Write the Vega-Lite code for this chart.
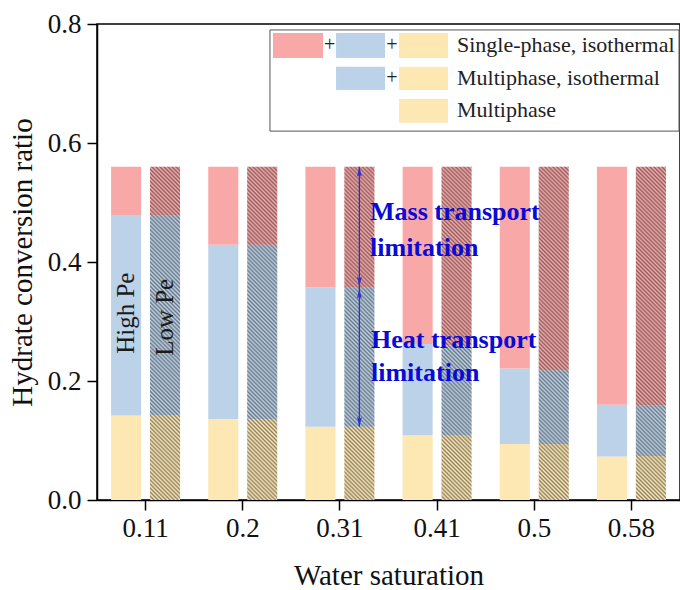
{
  "$schema": "https://vega.github.io/schema/vega-lite/v6.json",
  "autosize": "none",
  "width": 583,
  "height": 476,
  "padding": {"left": 97, "top": 24, "right": 0, "bottom": 90},
  "background": "white",
  "config": {
    "font": "Liberation Serif",
    "view": {"stroke": "#000", "strokeWidth": 1.5},
    "axis": {
      "labelFont": "Liberation Serif", "titleFont": "Liberation Serif",
      "labelFontSize": 27, "titleFontSize": 29, "titleFontWeight": "normal",
      "labelColor": "#111", "titleColor": "#111",
      "domainColor": "#000", "tickColor": "#000", "domainWidth": 1.5, "tickWidth": 1.5,
      "tickSize": 10, "grid": false
    }
  },
  "datasets": {
    "bars": [
      {"ws": "0.11", "pe": "High Pe", "comp": "Multiphase", "lo": 0, "hi": 0.142},
      {"ws": "0.11", "pe": "High Pe", "comp": "Multiphase, isothermal", "lo": 0.142, "hi": 0.479},
      {"ws": "0.11", "pe": "High Pe", "comp": "Single-phase, isothermal", "lo": 0.479, "hi": 0.56},
      {"ws": "0.11", "pe": "Low Pe", "comp": "Multiphase", "lo": 0, "hi": 0.143},
      {"ws": "0.11", "pe": "Low Pe", "comp": "Multiphase, isothermal", "lo": 0.143, "hi": 0.478},
      {"ws": "0.11", "pe": "Low Pe", "comp": "Single-phase, isothermal", "lo": 0.478, "hi": 0.56},
      {"ws": "0.2", "pe": "High Pe", "comp": "Multiphase", "lo": 0, "hi": 0.136},
      {"ws": "0.2", "pe": "High Pe", "comp": "Multiphase, isothermal", "lo": 0.136, "hi": 0.429},
      {"ws": "0.2", "pe": "High Pe", "comp": "Single-phase, isothermal", "lo": 0.429, "hi": 0.56},
      {"ws": "0.2", "pe": "Low Pe", "comp": "Multiphase", "lo": 0, "hi": 0.136},
      {"ws": "0.2", "pe": "Low Pe", "comp": "Multiphase, isothermal", "lo": 0.136, "hi": 0.429},
      {"ws": "0.2", "pe": "Low Pe", "comp": "Single-phase, isothermal", "lo": 0.429, "hi": 0.56},
      {"ws": "0.31", "pe": "High Pe", "comp": "Multiphase", "lo": 0, "hi": 0.123},
      {"ws": "0.31", "pe": "High Pe", "comp": "Multiphase, isothermal", "lo": 0.123, "hi": 0.357},
      {"ws": "0.31", "pe": "High Pe", "comp": "Single-phase, isothermal", "lo": 0.357, "hi": 0.56},
      {"ws": "0.31", "pe": "Low Pe", "comp": "Multiphase", "lo": 0, "hi": 0.123},
      {"ws": "0.31", "pe": "Low Pe", "comp": "Multiphase, isothermal", "lo": 0.123, "hi": 0.357},
      {"ws": "0.31", "pe": "Low Pe", "comp": "Single-phase, isothermal", "lo": 0.357, "hi": 0.56},
      {"ws": "0.41", "pe": "High Pe", "comp": "Multiphase", "lo": 0, "hi": 0.109},
      {"ws": "0.41", "pe": "High Pe", "comp": "Multiphase, isothermal", "lo": 0.109, "hi": 0.262},
      {"ws": "0.41", "pe": "High Pe", "comp": "Single-phase, isothermal", "lo": 0.262, "hi": 0.56},
      {"ws": "0.41", "pe": "Low Pe", "comp": "Multiphase", "lo": 0, "hi": 0.109},
      {"ws": "0.41", "pe": "Low Pe", "comp": "Multiphase, isothermal", "lo": 0.109, "hi": 0.26},
      {"ws": "0.41", "pe": "Low Pe", "comp": "Single-phase, isothermal", "lo": 0.26, "hi": 0.56},
      {"ws": "0.5", "pe": "High Pe", "comp": "Multiphase", "lo": 0, "hi": 0.094},
      {"ws": "0.5", "pe": "High Pe", "comp": "Multiphase, isothermal", "lo": 0.094, "hi": 0.221},
      {"ws": "0.5", "pe": "High Pe", "comp": "Single-phase, isothermal", "lo": 0.221, "hi": 0.56},
      {"ws": "0.5", "pe": "Low Pe", "comp": "Multiphase", "lo": 0, "hi": 0.094},
      {"ws": "0.5", "pe": "Low Pe", "comp": "Multiphase, isothermal", "lo": 0.094, "hi": 0.218},
      {"ws": "0.5", "pe": "Low Pe", "comp": "Single-phase, isothermal", "lo": 0.218, "hi": 0.56},
      {"ws": "0.58", "pe": "High Pe", "comp": "Multiphase", "lo": 0, "hi": 0.073},
      {"ws": "0.58", "pe": "High Pe", "comp": "Multiphase, isothermal", "lo": 0.073, "hi": 0.16},
      {"ws": "0.58", "pe": "High Pe", "comp": "Single-phase, isothermal", "lo": 0.16, "hi": 0.56},
      {"ws": "0.58", "pe": "Low Pe", "comp": "Multiphase", "lo": 0, "hi": 0.074},
      {"ws": "0.58", "pe": "Low Pe", "comp": "Multiphase, isothermal", "lo": 0.074, "hi": 0.159},
      {"ws": "0.58", "pe": "Low Pe", "comp": "Single-phase, isothermal", "lo": 0.159, "hi": 0.56}
    ],
    "pelabels": [
      {"ws": "0.11", "pe": "High Pe", "y": 0.314},
      {"ws": "0.11", "pe": "Low Pe", "y": 0.307}
    ],
    "arrow": [
      {"ws": "0.31", "pe": "Low Pe", "y1": 0.123, "y2": 0.56}
    ],
    "heads": [
      {"ws": "0.31", "pe": "Low Pe", "y": 0.56, "dir": "up"},
      {"ws": "0.31", "pe": "Low Pe", "y": 0.359, "dir": "down"},
      {"ws": "0.31", "pe": "Low Pe", "y": 0.355, "dir": "up"},
      {"ws": "0.31", "pe": "Low Pe", "y": 0.123, "dir": "down"}
    ],
    "legendbox": [
      {"x1": 1.78, "x2": 5.99, "y1": 0.62, "y2": 0.79}
    ],
    "swatches": [
      {"comp": "Single-phase, isothermal", "x1": 1.811, "x2": 2.326, "y1": 0.743, "y2": 0.785},
      {"comp": "Multiphase, isothermal", "x1": 2.46, "x2": 2.964, "y1": 0.743, "y2": 0.785},
      {"comp": "Multiphase", "x1": 3.108, "x2": 3.612, "y1": 0.743, "y2": 0.785},
      {"comp": "Multiphase, isothermal", "x1": 2.46, "x2": 2.964, "y1": 0.689, "y2": 0.728},
      {"comp": "Multiphase", "x1": 3.108, "x2": 3.612, "y1": 0.689, "y2": 0.728},
      {"comp": "Multiphase", "x1": 3.108, "x2": 3.612, "y1": 0.634, "y2": 0.674}
    ],
    "plus": [
      {"label": "+", "x": 2.393, "y": 0.764},
      {"label": "+", "x": 3.036, "y": 0.764},
      {"label": "+", "x": 3.036, "y": 0.709}
    ],
    "legendtext": [
      {"label": "Single-phase, isothermal", "x": 3.705, "y": 0.764},
      {"label": "Multiphase, isothermal", "x": 3.705, "y": 0.709},
      {"label": "Multiphase", "x": 3.705, "y": 0.655}
    ],
    "notes": [
      {"label": "Mass transport", "x": 2.81, "y": 0.484},
      {"label": "limitation", "x": 2.81, "y": 0.423},
      {"label": "Heat transport", "x": 2.82, "y": 0.269},
      {"label": "limitation", "x": 2.82, "y": 0.214}
    ]
  },
  "layer": [
    {
      "data": {"name": "bars"},
      "layer": [
        {
          "mark": {"type": "bar"},
          "encoding": {
            "x": {"field": "ws", "type": "nominal", "title": "Water saturation",
              "scale": {"domain": ["0.11", "0.2", "0.31", "0.41", "0.5", "0.58"], "paddingInner": 0.29, "paddingOuter": 0.145},
              "axis": {"labelAngle": 0, "labelPadding": 5, "titlePadding": 20}},
            "xOffset": {"field": "pe", "type": "nominal", "scale": {"domain": ["High Pe", "Low Pe"], "paddingInner": 0.228, "paddingOuter": 0}},
            "y": {"field": "lo", "type": "quantitative", "title": "Hydrate conversion ratio",
              "scale": {"domain": [0, 0.8], "nice": false},
              "axis": {"values": [0, 0.2, 0.4, 0.6, 0.8], "format": ".1f", "labelPadding": 6, "titlePadding": 10}},
            "y2": {"field": "hi"},
            "color": {"field": "comp", "type": "nominal", "legend": null,
              "scale": {"domain": ["Single-phase, isothermal", "Multiphase, isothermal", "Multiphase"], "range": ["#F9A8A8", "#BCD2E8", "#FDE7B3"]}}
          }
        },
        {
          "transform": [
            {"filter": "datum.pe === 'Low Pe'"},
            {"aggregate": [{"op": "min", "field": "lo", "as": "bottom"}, {"op": "max", "field": "hi", "as": "top"}], "groupby": ["ws", "pe"]}
          ],
          "mark": {"type": "bar", "fill": {"gradient": "linear", "x1": 1, "y1": 0, "x2": 0.9024, "y2": 1.0814, "stops": [
            {"offset": 0, "color": "rgba(20,20,20,0.48)"}, {"offset": 0.0056, "color": "rgba(20,20,20,0)"}, {"offset": 0.0111, "color": "rgba(20,20,20,0.48)"}, {"offset": 0.0167, "color": "rgba(20,20,20,0)"}, {"offset": 0.0222, "color": "rgba(20,20,20,0.48)"}, {"offset": 0.0278, "color": "rgba(20,20,20,0)"}, {"offset": 0.0333, "color": "rgba(20,20,20,0.48)"}, {"offset": 0.0389, "color": "rgba(20,20,20,0)"}, {"offset": 0.0444, "color": "rgba(20,20,20,0.48)"}, {"offset": 0.05, "color": "rgba(20,20,20,0)"}, {"offset": 0.0556, "color": "rgba(20,20,20,0.48)"}, {"offset": 0.0611, "color": "rgba(20,20,20,0)"}, {"offset": 0.0667, "color": "rgba(20,20,20,0.48)"}, {"offset": 0.0722, "color": "rgba(20,20,20,0)"}, {"offset": 0.0778, "color": "rgba(20,20,20,0.48)"}, {"offset": 0.0833, "color": "rgba(20,20,20,0)"}, {"offset": 0.0889, "color": "rgba(20,20,20,0.48)"}, {"offset": 0.0944, "color": "rgba(20,20,20,0)"},
            {"offset": 0.1, "color": "rgba(20,20,20,0.48)"}, {"offset": 0.1056, "color": "rgba(20,20,20,0)"}, {"offset": 0.1111, "color": "rgba(20,20,20,0.48)"}, {"offset": 0.1167, "color": "rgba(20,20,20,0)"}, {"offset": 0.1222, "color": "rgba(20,20,20,0.48)"}, {"offset": 0.1278, "color": "rgba(20,20,20,0)"}, {"offset": 0.1333, "color": "rgba(20,20,20,0.48)"}, {"offset": 0.1389, "color": "rgba(20,20,20,0)"}, {"offset": 0.1444, "color": "rgba(20,20,20,0.48)"}, {"offset": 0.15, "color": "rgba(20,20,20,0)"}, {"offset": 0.1556, "color": "rgba(20,20,20,0.48)"}, {"offset": 0.1611, "color": "rgba(20,20,20,0)"}, {"offset": 0.1667, "color": "rgba(20,20,20,0.48)"}, {"offset": 0.1722, "color": "rgba(20,20,20,0)"}, {"offset": 0.1778, "color": "rgba(20,20,20,0.48)"}, {"offset": 0.1833, "color": "rgba(20,20,20,0)"}, {"offset": 0.1889, "color": "rgba(20,20,20,0.48)"}, {"offset": 0.1944, "color": "rgba(20,20,20,0)"},
            {"offset": 0.2, "color": "rgba(20,20,20,0.48)"}, {"offset": 0.2056, "color": "rgba(20,20,20,0)"}, {"offset": 0.2111, "color": "rgba(20,20,20,0.48)"}, {"offset": 0.2167, "color": "rgba(20,20,20,0)"}, {"offset": 0.2222, "color": "rgba(20,20,20,0.48)"}, {"offset": 0.2278, "color": "rgba(20,20,20,0)"}, {"offset": 0.2333, "color": "rgba(20,20,20,0.48)"}, {"offset": 0.2389, "color": "rgba(20,20,20,0)"}, {"offset": 0.2444, "color": "rgba(20,20,20,0.48)"}, {"offset": 0.25, "color": "rgba(20,20,20,0)"}, {"offset": 0.2556, "color": "rgba(20,20,20,0.48)"}, {"offset": 0.2611, "color": "rgba(20,20,20,0)"}, {"offset": 0.2667, "color": "rgba(20,20,20,0.48)"}, {"offset": 0.2722, "color": "rgba(20,20,20,0)"}, {"offset": 0.2778, "color": "rgba(20,20,20,0.48)"}, {"offset": 0.2833, "color": "rgba(20,20,20,0)"}, {"offset": 0.2889, "color": "rgba(20,20,20,0.48)"}, {"offset": 0.2944, "color": "rgba(20,20,20,0)"},
            {"offset": 0.3, "color": "rgba(20,20,20,0.48)"}, {"offset": 0.3056, "color": "rgba(20,20,20,0)"}, {"offset": 0.3111, "color": "rgba(20,20,20,0.48)"}, {"offset": 0.3167, "color": "rgba(20,20,20,0)"}, {"offset": 0.3222, "color": "rgba(20,20,20,0.48)"}, {"offset": 0.3278, "color": "rgba(20,20,20,0)"}, {"offset": 0.3333, "color": "rgba(20,20,20,0.48)"}, {"offset": 0.3389, "color": "rgba(20,20,20,0)"}, {"offset": 0.3444, "color": "rgba(20,20,20,0.48)"}, {"offset": 0.35, "color": "rgba(20,20,20,0)"}, {"offset": 0.3556, "color": "rgba(20,20,20,0.48)"}, {"offset": 0.3611, "color": "rgba(20,20,20,0)"}, {"offset": 0.3667, "color": "rgba(20,20,20,0.48)"}, {"offset": 0.3722, "color": "rgba(20,20,20,0)"}, {"offset": 0.3778, "color": "rgba(20,20,20,0.48)"}, {"offset": 0.3833, "color": "rgba(20,20,20,0)"}, {"offset": 0.3889, "color": "rgba(20,20,20,0.48)"}, {"offset": 0.3944, "color": "rgba(20,20,20,0)"},
            {"offset": 0.4, "color": "rgba(20,20,20,0.48)"}, {"offset": 0.4056, "color": "rgba(20,20,20,0)"}, {"offset": 0.4111, "color": "rgba(20,20,20,0.48)"}, {"offset": 0.4167, "color": "rgba(20,20,20,0)"}, {"offset": 0.4222, "color": "rgba(20,20,20,0.48)"}, {"offset": 0.4278, "color": "rgba(20,20,20,0)"}, {"offset": 0.4333, "color": "rgba(20,20,20,0.48)"}, {"offset": 0.4389, "color": "rgba(20,20,20,0)"}, {"offset": 0.4444, "color": "rgba(20,20,20,0.48)"}, {"offset": 0.45, "color": "rgba(20,20,20,0)"}, {"offset": 0.4556, "color": "rgba(20,20,20,0.48)"}, {"offset": 0.4611, "color": "rgba(20,20,20,0)"}, {"offset": 0.4667, "color": "rgba(20,20,20,0.48)"}, {"offset": 0.4722, "color": "rgba(20,20,20,0)"}, {"offset": 0.4778, "color": "rgba(20,20,20,0.48)"}, {"offset": 0.4833, "color": "rgba(20,20,20,0)"}, {"offset": 0.4889, "color": "rgba(20,20,20,0.48)"}, {"offset": 0.4944, "color": "rgba(20,20,20,0)"},
            {"offset": 0.5, "color": "rgba(20,20,20,0.48)"}, {"offset": 0.5056, "color": "rgba(20,20,20,0)"}, {"offset": 0.5111, "color": "rgba(20,20,20,0.48)"}, {"offset": 0.5167, "color": "rgba(20,20,20,0)"}, {"offset": 0.5222, "color": "rgba(20,20,20,0.48)"}, {"offset": 0.5278, "color": "rgba(20,20,20,0)"}, {"offset": 0.5333, "color": "rgba(20,20,20,0.48)"}, {"offset": 0.5389, "color": "rgba(20,20,20,0)"}, {"offset": 0.5444, "color": "rgba(20,20,20,0.48)"}, {"offset": 0.55, "color": "rgba(20,20,20,0)"}, {"offset": 0.5556, "color": "rgba(20,20,20,0.48)"}, {"offset": 0.5611, "color": "rgba(20,20,20,0)"}, {"offset": 0.5667, "color": "rgba(20,20,20,0.48)"}, {"offset": 0.5722, "color": "rgba(20,20,20,0)"}, {"offset": 0.5778, "color": "rgba(20,20,20,0.48)"}, {"offset": 0.5833, "color": "rgba(20,20,20,0)"}, {"offset": 0.5889, "color": "rgba(20,20,20,0.48)"}, {"offset": 0.5944, "color": "rgba(20,20,20,0)"},
            {"offset": 0.6, "color": "rgba(20,20,20,0.48)"}, {"offset": 0.6056, "color": "rgba(20,20,20,0)"}, {"offset": 0.6111, "color": "rgba(20,20,20,0.48)"}, {"offset": 0.6167, "color": "rgba(20,20,20,0)"}, {"offset": 0.6222, "color": "rgba(20,20,20,0.48)"}, {"offset": 0.6278, "color": "rgba(20,20,20,0)"}, {"offset": 0.6333, "color": "rgba(20,20,20,0.48)"}, {"offset": 0.6389, "color": "rgba(20,20,20,0)"}, {"offset": 0.6444, "color": "rgba(20,20,20,0.48)"}, {"offset": 0.65, "color": "rgba(20,20,20,0)"}, {"offset": 0.6556, "color": "rgba(20,20,20,0.48)"}, {"offset": 0.6611, "color": "rgba(20,20,20,0)"}, {"offset": 0.6667, "color": "rgba(20,20,20,0.48)"}, {"offset": 0.6722, "color": "rgba(20,20,20,0)"}, {"offset": 0.6778, "color": "rgba(20,20,20,0.48)"}, {"offset": 0.6833, "color": "rgba(20,20,20,0)"}, {"offset": 0.6889, "color": "rgba(20,20,20,0.48)"}, {"offset": 0.6944, "color": "rgba(20,20,20,0)"},
            {"offset": 0.7, "color": "rgba(20,20,20,0.48)"}, {"offset": 0.7056, "color": "rgba(20,20,20,0)"}, {"offset": 0.7111, "color": "rgba(20,20,20,0.48)"}, {"offset": 0.7167, "color": "rgba(20,20,20,0)"}, {"offset": 0.7222, "color": "rgba(20,20,20,0.48)"}, {"offset": 0.7278, "color": "rgba(20,20,20,0)"}, {"offset": 0.7333, "color": "rgba(20,20,20,0.48)"}, {"offset": 0.7389, "color": "rgba(20,20,20,0)"}, {"offset": 0.7444, "color": "rgba(20,20,20,0.48)"}, {"offset": 0.75, "color": "rgba(20,20,20,0)"}, {"offset": 0.7556, "color": "rgba(20,20,20,0.48)"}, {"offset": 0.7611, "color": "rgba(20,20,20,0)"}, {"offset": 0.7667, "color": "rgba(20,20,20,0.48)"}, {"offset": 0.7722, "color": "rgba(20,20,20,0)"}, {"offset": 0.7778, "color": "rgba(20,20,20,0.48)"}, {"offset": 0.7833, "color": "rgba(20,20,20,0)"}, {"offset": 0.7889, "color": "rgba(20,20,20,0.48)"}, {"offset": 0.7944, "color": "rgba(20,20,20,0)"},
            {"offset": 0.8, "color": "rgba(20,20,20,0.48)"}, {"offset": 0.8056, "color": "rgba(20,20,20,0)"}, {"offset": 0.8111, "color": "rgba(20,20,20,0.48)"}, {"offset": 0.8167, "color": "rgba(20,20,20,0)"}, {"offset": 0.8222, "color": "rgba(20,20,20,0.48)"}, {"offset": 0.8278, "color": "rgba(20,20,20,0)"}, {"offset": 0.8333, "color": "rgba(20,20,20,0.48)"}, {"offset": 0.8389, "color": "rgba(20,20,20,0)"}, {"offset": 0.8444, "color": "rgba(20,20,20,0.48)"}, {"offset": 0.85, "color": "rgba(20,20,20,0)"}, {"offset": 0.8556, "color": "rgba(20,20,20,0.48)"}, {"offset": 0.8611, "color": "rgba(20,20,20,0)"}, {"offset": 0.8667, "color": "rgba(20,20,20,0.48)"}, {"offset": 0.8722, "color": "rgba(20,20,20,0)"}, {"offset": 0.8778, "color": "rgba(20,20,20,0.48)"}, {"offset": 0.8833, "color": "rgba(20,20,20,0)"}, {"offset": 0.8889, "color": "rgba(20,20,20,0.48)"}, {"offset": 0.8944, "color": "rgba(20,20,20,0)"},
            {"offset": 0.9, "color": "rgba(20,20,20,0.48)"}, {"offset": 0.9056, "color": "rgba(20,20,20,0)"}, {"offset": 0.9111, "color": "rgba(20,20,20,0.48)"}, {"offset": 0.9167, "color": "rgba(20,20,20,0)"}, {"offset": 0.9222, "color": "rgba(20,20,20,0.48)"}, {"offset": 0.9278, "color": "rgba(20,20,20,0)"}, {"offset": 0.9333, "color": "rgba(20,20,20,0.48)"}, {"offset": 0.9389, "color": "rgba(20,20,20,0)"}, {"offset": 0.9444, "color": "rgba(20,20,20,0.48)"}, {"offset": 0.95, "color": "rgba(20,20,20,0)"}, {"offset": 0.9556, "color": "rgba(20,20,20,0.48)"}, {"offset": 0.9611, "color": "rgba(20,20,20,0)"}, {"offset": 0.9667, "color": "rgba(20,20,20,0.48)"}, {"offset": 0.9722, "color": "rgba(20,20,20,0)"}, {"offset": 0.9778, "color": "rgba(20,20,20,0.48)"}, {"offset": 0.9833, "color": "rgba(20,20,20,0)"}, {"offset": 0.9889, "color": "rgba(20,20,20,0.48)"}, {"offset": 0.9944, "color": "rgba(20,20,20,0)"},
            {"offset": 1, "color": "rgba(20,20,20,0.48)"}
          ]}},
          "encoding": {
            "x": {"field": "ws", "type": "nominal", "title": "Water saturation",
              "scale": {"domain": ["0.11", "0.2", "0.31", "0.41", "0.5", "0.58"], "paddingInner": 0.29, "paddingOuter": 0.145}},
            "xOffset": {"field": "pe", "type": "nominal", "scale": {"domain": ["High Pe", "Low Pe"], "paddingInner": 0.228, "paddingOuter": 0}},
            "y": {"field": "bottom", "type": "quantitative", "title": "Hydrate conversion ratio", "scale": {"domain": [0, 0.8], "nice": false}},
            "y2": {"field": "top"}
          }
        },
        {
          "data": {"name": "pelabels"},
          "mark": {"type": "text", "angle": 270, "fontSize": 25, "font": "Liberation Serif", "color": "#1a1a1a", "align": "center", "baseline": "middle"},
          "encoding": {
            "x": {"field": "ws", "type": "nominal", "title": "Water saturation",
              "scale": {"domain": ["0.11", "0.2", "0.31", "0.41", "0.5", "0.58"], "paddingInner": 0.29, "paddingOuter": 0.145}},
            "xOffset": {"field": "pe", "type": "nominal", "scale": {"domain": ["High Pe", "Low Pe"], "paddingInner": 0.228, "paddingOuter": 0}},
            "y": {"field": "y", "type": "quantitative", "title": "Hydrate conversion ratio", "scale": {"domain": [0, 0.8], "nice": false}},
            "text": {"field": "pe"}
          }
        },
        {
          "data": {"name": "arrow"},
          "mark": {"type": "rule", "color": "#3030D0", "strokeWidth": 1.3},
          "encoding": {
            "x": {"field": "ws", "type": "nominal", "title": "Water saturation",
              "scale": {"domain": ["0.11", "0.2", "0.31", "0.41", "0.5", "0.58"], "paddingInner": 0.29, "paddingOuter": 0.145}},
            "xOffset": {"field": "pe", "type": "nominal", "scale": {"domain": ["High Pe", "Low Pe"], "paddingInner": 0.228, "paddingOuter": 0}},
            "y": {"field": "y1", "type": "quantitative", "title": "Hydrate conversion ratio", "scale": {"domain": [0, 0.8], "nice": false}},
            "y2": {"field": "y2"}
          }
        },
        {
          "data": {"name": "heads"},
          "mark": {"type": "point", "filled": true, "color": "#3030D0", "size": 150, "opacity": 1, "strokeWidth": 0},
          "encoding": {
            "x": {"field": "ws", "type": "nominal", "title": "Water saturation",
              "scale": {"domain": ["0.11", "0.2", "0.31", "0.41", "0.5", "0.58"], "paddingInner": 0.29, "paddingOuter": 0.145}},
            "xOffset": {"field": "pe", "type": "nominal", "scale": {"domain": ["High Pe", "Low Pe"], "paddingInner": 0.228, "paddingOuter": 0}},
            "y": {"field": "y", "type": "quantitative", "title": "Hydrate conversion ratio", "scale": {"domain": [0, 0.8], "nice": false}},
            "shape": {"field": "dir", "type": "nominal", "legend": null,
              "scale": {"domain": ["up", "down"], "range": ["M0,0L-0.4,1.6L0,1.3L0.4,1.6Z", "M0,0L-0.4,-1.6L0,-1.3L0.4,-1.6Z"]}}
          }
        }
      ]
    },
    {
      "layer": [
        {
          "data": {"name": "legendbox"},
          "mark": {"type": "rect", "fill": "white", "stroke": "#555", "strokeWidth": 1},
          "encoding": {
            "x": {"field": "x1", "type": "quantitative", "axis": null, "scale": {"domain": [0, 6], "nice": false, "zero": false}},
            "x2": {"field": "x2"},
            "y": {"field": "y1", "type": "quantitative", "title": "Hydrate conversion ratio", "scale": {"domain": [0, 0.8], "nice": false}},
            "y2": {"field": "y2"}
          }
        },
        {
          "data": {"name": "swatches"},
          "mark": {"type": "rect"},
          "encoding": {
            "x": {"field": "x1", "type": "quantitative", "axis": null, "scale": {"domain": [0, 6], "nice": false, "zero": false}},
            "x2": {"field": "x2"},
            "y": {"field": "y1", "type": "quantitative", "title": "Hydrate conversion ratio", "scale": {"domain": [0, 0.8], "nice": false}},
            "y2": {"field": "y2"},
            "color": {"field": "comp", "type": "nominal", "legend": null,
              "scale": {"domain": ["Single-phase, isothermal", "Multiphase, isothermal", "Multiphase"], "range": ["#F9A8A8", "#BCD2E8", "#FDE7B3"]}}
          }
        },
        {
          "data": {"name": "plus"},
          "mark": {"type": "text", "fontSize": 20, "font": "Liberation Serif", "align": "center", "baseline": "middle", "color": "#222"},
          "encoding": {
            "x": {"field": "x", "type": "quantitative", "axis": null, "scale": {"domain": [0, 6], "nice": false, "zero": false}},
            "y": {"field": "y", "type": "quantitative", "title": "Hydrate conversion ratio", "scale": {"domain": [0, 0.8], "nice": false}},
            "text": {"field": "label"}
          }
        },
        {
          "data": {"name": "legendtext"},
          "mark": {"type": "text", "fontSize": 22, "font": "Liberation Serif", "align": "left", "baseline": "middle", "color": "#222"},
          "encoding": {
            "x": {"field": "x", "type": "quantitative", "axis": null, "scale": {"domain": [0, 6], "nice": false, "zero": false}},
            "y": {"field": "y", "type": "quantitative", "title": "Hydrate conversion ratio", "scale": {"domain": [0, 0.8], "nice": false}},
            "text": {"field": "label"}
          }
        },
        {
          "data": {"name": "notes"},
          "mark": {"type": "text", "fontSize": 26, "font": "Liberation Serif", "fontWeight": "bold", "align": "left", "baseline": "middle", "color": "#0A0AD6"},
          "encoding": {
            "x": {"field": "x", "type": "quantitative", "axis": null, "scale": {"domain": [0, 6], "nice": false, "zero": false}},
            "y": {"field": "y", "type": "quantitative", "title": "Hydrate conversion ratio", "scale": {"domain": [0, 0.8], "nice": false}},
            "text": {"field": "label"}
          }
        }
      ]
    }
  ],
  "resolve": {"scale": {"x": "independent"}}
}
